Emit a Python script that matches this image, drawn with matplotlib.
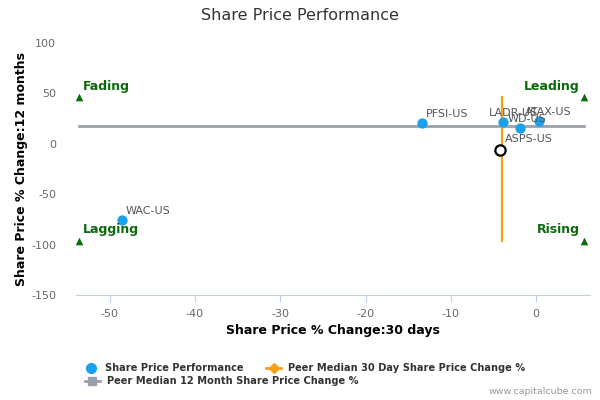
"""Share price performance quadrant chart (30 day vs 12 month change)."""

import matplotlib

matplotlib.use("Agg")
import matplotlib.pyplot as plt  # noqa: E402
from matplotlib.lines import Line2D  # noqa: E402

plt.rcParams["axes.unicode_minus"] = False

# data
tickers = ["WAC-US", "PFSI-US", "LADR-US", "WD-US", "ATAX-US"]
change_30d = [-48.6, -13.4, -3.9, -1.9, 0.35]
change_12m = [-76.0, 20.2, 21.6, 15.6, 22.2]

focus_name = "ASPS-US"
focus_30d = -4.2
focus_12m = -6.0

peer_median_30d = -4.0
peer_median_12m = 17.6

quad_names = ["Fading", "Leading", "Lagging", "Rising"]
quad_x = [-53.6, 5.6, -53.6, 5.6]
quad_y = [46.0, 46.0, -96.0, -96.0]

x_ticks = [-50, -40, -30, -20, -10, 0]
y_ticks = [100, 50, 0, -50, -100, -150]

# label nudges (points) for the crowded cluster
label_dx = {"LADR-US": -13, "WD-US": -12, "ATAX-US": -13}

BLUE = "#1aa0ec"
ORANGE = "#f7a11a"
GREY = "#9aa0ab"
GREEN = "#0b6b0b"

fig = plt.figure(figsize=(6, 4), dpi=100)
ax = fig.add_axes([0.126, 0.2625, 0.857, 0.63])

# peer median lines span the quadrant markers
ax.plot([min(quad_x), max(quad_x)], [peer_median_12m] * 2, color=GREY, lw=2, zorder=1)
ax.plot([peer_median_30d] * 2, [min(quad_y), max(quad_y)], color=ORANGE, lw=1.6, zorder=2)

ax.scatter(change_30d, change_12m, s=55, color=BLUE, zorder=3, linewidths=0)
ax.scatter([focus_30d], [focus_12m], s=55, facecolor="white", edgecolor="black",
           linewidths=1.6, zorder=4)

for name, x, y in zip(tickers, change_30d, change_12m):
    ax.annotate(name, (x, y), xytext=(3 + label_dx.get(name, 0), 3),
                textcoords="offset points", fontsize=8, color="#555555",
                ha="left", va="bottom", zorder=5)
ax.annotate(focus_name, (focus_30d, focus_12m), xytext=(3, 4),
            textcoords="offset points", fontsize=8, color="#555555",
            ha="left", va="bottom", zorder=5)

# quadrant markers and names
ax.scatter(quad_x, quad_y, marker="^", s=30, color=GREEN, zorder=3, linewidths=0)
for name, x, y in zip(quad_names, quad_x, quad_y):
    left = x < 0
    ax.annotate(name, (x, y), xytext=(3 if left else -3, 3),
                textcoords="offset points", fontsize=9, fontweight="bold",
                color=GREEN, ha="left" if left else "right", va="bottom", zorder=5)

ax.set_xlim(-54.0, 6.3)
ax.set_ylim(-150, 100)
ax.set_xticks(x_ticks)
ax.set_yticks(y_ticks)
for side in ("top", "right", "left"):
    ax.spines[side].set_visible(False)
ax.spines["bottom"].set_color("#c0d0e0")
ax.tick_params(axis="x", colors="#c0d0e0", labelcolor="#666666", labelsize=8, length=5,
               pad=5)
ax.tick_params(axis="y", length=0, labelcolor="#666666", labelsize=8, pad=14)

ax.set_xlabel("Share Price % Change:30 days", fontsize=9, fontweight="bold", labelpad=4)
ax.set_ylabel("Share Price % Change:12 months", fontsize=9, fontweight="bold", labelpad=2)
fig.text(0.5, 0.962, "Share Price Performance", ha="center", va="center",
         fontsize=11.5, color="#333333")

# legend
leg_kw = dict(frameon=False, prop={"size": 7.1, "weight": "bold"}, labelcolor="#333333",
              handletextpad=0.7, borderaxespad=0, borderpad=0)
h1 = Line2D([], [], ls="none", marker="o", ms=7, color=BLUE)
h2 = Line2D([], [], color=ORANGE, lw=2, marker="D", ms=5)
h3 = Line2D([], [], color=GREY, lw=2, marker="s", ms=6)
fig.legend([h1, h2], ["Share Price Performance", "Peer Median 30 Day Share Price Change %"],
           loc="center left", bbox_to_anchor=(0.138, 0.08), ncol=2,
           handlelength=1.6, columnspacing=2.2, **leg_kw)
fig.legend([h3], ["Peer Median 12 Month Share Price Change %"], loc="center left",
           bbox_to_anchor=(0.141, 0.0475), handlelength=1.6, **leg_kw)

fig.text(0.987, 0.02, "www.capitalcube.com", ha="right", va="center", fontsize=6.8,
         color="#999999")

fig.savefig("out.png", dpi=100)
